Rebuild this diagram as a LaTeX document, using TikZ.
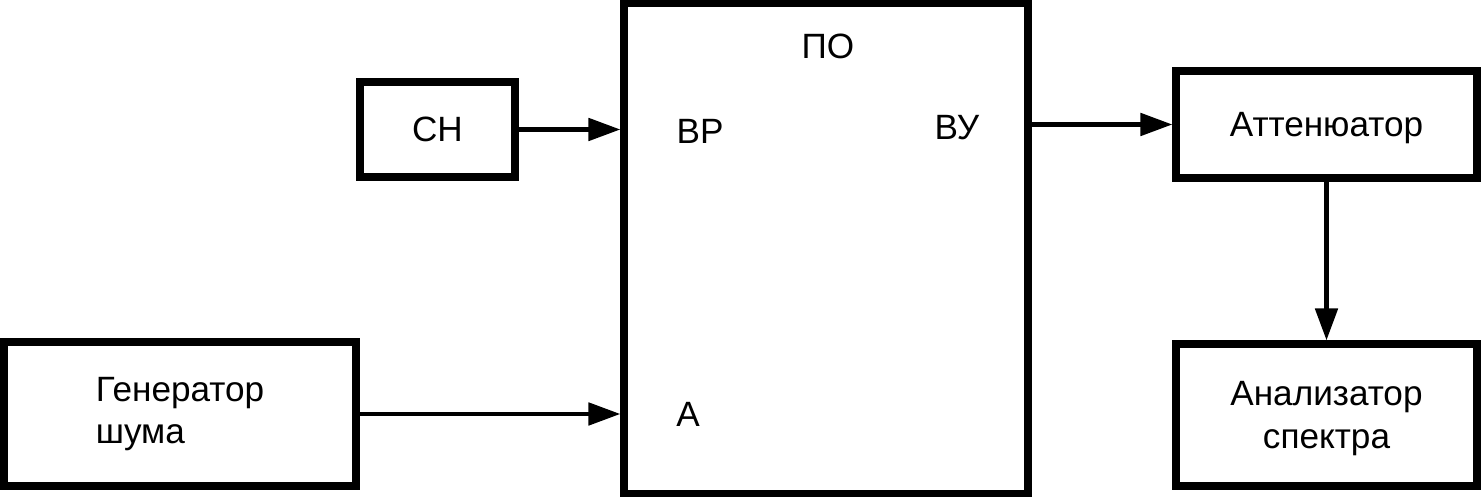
\documentclass[tikz,border=0pt]{standalone}
\usepackage{fontspec}
\setmainfont{Liberation Sans}
\usetikzlibrary{arrows.meta}

\begin{document}
\begin{tikzpicture}[
	block/.style={draw, line width=2pt, inner sep=0pt, minimum width=#1},
	link/.style={line width=1.4pt, -{Triangle[length=3.2mm, width=2.2mm]}},
	port/.style={inner sep=0pt},
	font=\fontsize{10}{12}\selectfont
]

\useasboundingbox (0,0) rectangle (14.83,4.97);

\node[block=1.55cm, minimum height=0.95cm] (sn) at (4.375,3.675) {СН};
\node[block=4.04cm, minimum height=4.9cm] (po) at (8.26,2.485) {};
\node[block=3.01cm, minimum height=1.07cm, text depth=0pt] (att) at (13.265,3.725) {Аттенюатор};
\node[block=3.01cm, minimum height=1.42cm, align=center, text depth=0pt] (ana) at (13.265,0.82) {Анализатор\\спектра};
\node[block=3.52cm, minimum height=1.44cm] (gen) at (1.80,0.83) {\begin{tabular}{@{}l@{}}Генератор\\шума\end{tabular}};

\node[port] (po-name) at (8.28,4.51) {ПО};
\node[port] (po-vr) at (7.00,3.66) {ВР};
\node[port] (po-vu) at (9.57,3.69) {ВУ};
\node[port] (po-a) at (6.88,0.83) {А};

\draw[link] (sn.east) -- (sn.east -| po.west);
\draw[link] (gen.east) -- (gen.east -| po.west);
\draw[link] (att.west -| po.east) -- (att.west);
\draw[link] (att.south) -- (ana.north);

\end{tikzpicture}
\end{document}
